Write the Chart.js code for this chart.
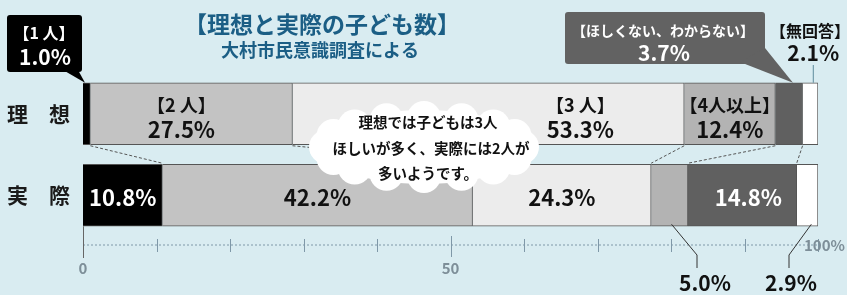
<!DOCTYPE html>
<html lang="ja">
<head>
<meta charset="utf-8">
<script src="https://cdn.jsdelivr.net/npm/chart.js@4"></script>
<style>
body { margin: 0; background: #d9ecf1; }
canvas { display: block; }
</style>
</head>
<body>
<canvas id="grafico" width="847" height="295"></canvas>
<script>
const categorias = ['理　想', '実　際'];
const grupos = ['1 人', '2 人', '3 人', '4人以上', 'ほしくない、わからない', '無回答'];
const ideal = [1.0, 27.5, 53.3, 12.4, 3.7, 2.1];
const real = [10.8, 42.2, 24.3, 5.0, 14.8, 2.9];
const cores = ['#000000', '#c3c3c3', '#ececec', '#b3b3b3', '#606060', '#ffffff'];
const titulo = '【理想と実際の子ども数】';
const subtitulo = '大村市民意識調査による';
const nota = ['理想では子どもは3人', 'ほしいが多く、実際には2人が', '多いようです。'];
const ticksX = [0, 50, 100];
const ticksXLabels = ['0', '50', '100%'];

const FONTE = '"Noto Sans CJK JP", sans-serif';
const pct = v => v.toFixed(1) + '%';

function txt(ctx, s, x, y, size, color, align) {
    ctx.font = `bold ${size}px ${FONTE}`;
    ctx.fillStyle = color;
    ctx.textAlign = align || 'center';
    ctx.textBaseline = 'middle';
    ctx.fillText(s, x, y);
}

function nuvem(ctx, cx, cy, rx, ry) {
    ctx.fillStyle = '#ffffff';
    ctx.beginPath();
    ctx.ellipse(cx, cy, rx - 12, ry - 8, 0, 0, Math.PI * 2);
    ctx.fill();
    for (let k = 0; k < 16; k++) {
        let t = k / 16 * Math.PI * 2;
        ctx.beginPath();
        ctx.arc(cx + Math.cos(t) * (rx - 20), cy + Math.sin(t) * (ry - 16), 17, 0, Math.PI * 2);
        ctx.fill();
    }
}

const desenho = {
    id: 'desenho',
    afterDatasetsDraw(chart) {
        const ctx = chart.ctx;
        const sx = chart.scales.x;
        const barras = chart.data.datasets.map((d, i) => chart.getDatasetMeta(i).data);
        ctx.save();

        // linhas tracejadas entre as barras
        ctx.strokeStyle = '#555';
        ctx.lineWidth = 1;
        ctx.setLineDash([3, 2]);
        for (let i = 0; i < grupos.length - 1; i++) {
            let a = barras[i][0], b = barras[i][1];
            ctx.beginPath();
            ctx.moveTo(a.x, a.y + a.height / 2 + 1);
            ctx.lineTo(b.x, b.y - b.height / 2 - 1);
            ctx.stroke();
        }
        ctx.setLineDash([]);

        // rotulos dentro da barra "ideal"
        const desvio = { 1: -10, 2: 92, 3: 0 };
        [1, 2, 3].forEach(i => {
            let e = barras[i][0];
            let cx = (e.x + e.base) / 2 + desvio[i];
            txt(ctx, '【' + grupos[i] + '】', cx, e.y - 9, 18, '#111');
            txt(ctx, pct(ideal[i]), cx, e.y + 16, 22, '#111');
        });

        // rotulos dentro da barra "real"
        [0, 1, 2, 4].forEach(i => {
            let e = barras[i][1];
            let cx = (e.x + e.base) / 2 + (i === 4 ? 6 : 0);
            txt(ctx, pct(real[i]), cx, e.y + 2, 22, (i === 0 || i === 4) ? '#fff' : '#111');
        });

        // nuvem
        nuvem(ctx, 424, 147, 118, 45);
        txt(ctx, nota[0], 428, 122, 14.5, '#111');
        txt(ctx, nota[1], 431, 148, 14.5, '#111');
        txt(ctx, nota[2], 428, 173, 14.5, '#111');

        // balao 1 pessoa
        let e0 = barras[0][0];
        let topo = e0.y - e0.height / 2;
        ctx.fillStyle = '#000';
        ctx.beginPath();
        ctx.roundRect(7, 15, 75, 57, 3);
        ctx.fill();
        ctx.beginPath();
        ctx.moveTo(63, 70); ctx.lineTo(78, 70); ctx.lineTo(e0.base + 2, topo);
        ctx.closePath(); ctx.fill();
        txt(ctx, '【' + grupos[0] + '】', 44, 33, 16, '#fff');
        txt(ctx, pct(ideal[0]), 45, 57, 21, '#fff');

        // balao nao quer
        let e4 = barras[4][0];
        ctx.fillStyle = '#626262';
        ctx.beginPath();
        ctx.roundRect(565, 12, 200, 52, 3);
        ctx.fill();
        ctx.beginPath();
        ctx.moveTo(740, 62); ctx.lineTo(765, 48); ctx.lineTo((e4.x + e4.base) / 2 + 4, topo);
        ctx.closePath(); ctx.fill();
        txt(ctx, '【' + grupos[4] + '】', 663, 31, 14, '#fff');
        txt(ctx, pct(ideal[4]), 664, 53, 21, '#fff');

        // sem resposta
        let e5 = barras[5][0];
        let mx = (e5.x + e5.base) / 2 + 3;
        txt(ctx, '【' + grupos[5] + '】', 770, 31, 16, '#111', 'left');
        txt(ctx, pct(ideal[5]), mx, 53, 21, '#111');
        ctx.strokeStyle = '#5d8c9c';
        ctx.beginPath(); ctx.moveTo(mx, 65); ctx.lineTo(mx, topo); ctx.stroke();

        // eixo x
        const yEixo = 245;
        const x0 = sx.getPixelForValue(0);
        const x100 = sx.getPixelForValue(100);
        ctx.strokeStyle = '#7f98a8';
        ctx.setLineDash([2, 2]);
        ctx.beginPath(); ctx.moveTo(x0, yEixo); ctx.lineTo(x100 + 4, yEixo); ctx.stroke();
        ctx.setLineDash([]);
        for (let v = 10; v <= 100; v += 10) {
            let px = Math.round(sx.getPixelForValue(v)) + 0.5;
            ctx.beginPath();
            ctx.moveTo(px, v === 50 ? 236 : 239);
            ctx.lineTo(px, v === 50 ? 257 : 252);
            ctx.stroke();
        }
        let eb = barras[0][1];
        ctx.strokeStyle = '#666';
        ctx.beginPath();
        ctx.moveTo(Math.round(x0) + 0.5, eb.y + eb.height / 2);
        ctx.lineTo(Math.round(x0) + 0.5, 258);
        ctx.stroke();
        ticksX.forEach((v, i) => {
            let px = sx.getPixelForValue(v);
            if (v === 100) txt(ctx, ticksXLabels[i], px - 14, yEixo, 15, '#7d8e98', 'left');
            else txt(ctx, ticksXLabels[i], px, 268, 15, '#7d8e98');
        });

        // rotulos abaixo (5.0% e 2.9%)
        const baixo = [[3, 697, 705], [5, 789, 791]];
        ctx.strokeStyle = '#333';
        baixo.forEach(([i, lx, tx]) => {
            let e = barras[i][1];
            let sxm = (e.x + e.base) / 2 + (i === 5 ? 4 : 2);
            ctx.beginPath();
            ctx.moveTo(sxm, e.y + e.height / 2 - 2);
            ctx.lineTo(lx, 255);
            ctx.lineTo(lx, 268);
            ctx.stroke();
            txt(ctx, pct(real[i]), tx, 283, 21, '#111');
        });

        // titulo
        txt(ctx, titulo, 322, 24, 23, '#1b5e85');
        txt(ctx, subtitulo, 320, 50, 18, '#1b5e85');

        ctx.restore();
    }
};

new Chart(document.getElementById('grafico').getContext('2d'), {
    type: 'bar',
    data: {
        labels: categorias,
        datasets: grupos.map((g, i) => ({
            label: g,
            data: [ideal[i], real[i]],
            backgroundColor: cores[i],
            borderColor: '#555',
            borderWidth: 1,
            barThickness: 62
        }))
    },
    options: {
        indexAxis: 'y',
        responsive: false,
        animation: false,
        layout: { padding: { top: 73, bottom: 59, right: 29, left: 0 } },
        scales: {
            x: { stacked: true, min: 0, max: 100, display: false },
            y: {
                stacked: true,
                grid: { display: false },
                border: { display: false },
                ticks: { font: { family: FONTE, size: 21, weight: 'bold' }, color: '#1a1a1a', padding: 5 },
                afterFit: s => { s.width = 83; }
            }
        },
        plugins: { legend: { display: false }, tooltip: { enabled: false } }
    },
    plugins: [desenho]
});
</script>
</body>
</html>
